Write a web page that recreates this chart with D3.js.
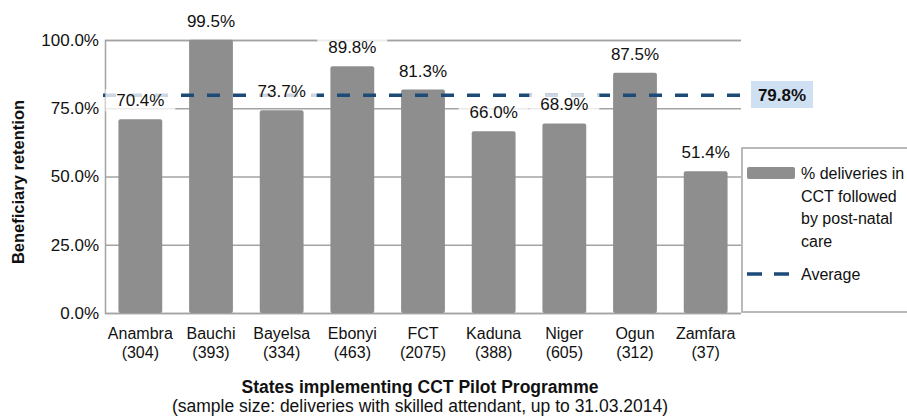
<!DOCTYPE html>
<html>
<head>
<meta charset="utf-8">
<script src="https://cdn.jsdelivr.net/npm/d3@7"></script>
<style>
  body { margin: 0; background: #fff; }
  svg { display: block; font-family: "Liberation Sans", Arial, Helvetica, sans-serif; }
</style>
</head>
<body>
<div id="chart"></div>
<script>
const states = ['Anambra', 'Bauchi', 'Bayelsa', 'Ebonyi', 'FCT', 'Kaduna', 'Niger', 'Ogun', 'Zamfara'];
const sampleSizes = [304, 393, 334, 463, 2075, 388, 605, 312, 37];
const retention = [70.4, 99.5, 73.7, 89.8, 81.3, 66.0, 68.9, 87.5, 51.4];
const average = 79.8;
const yTicks = [0, 25, 50, 75, 100];
const legendLines = ['% deliveries in', 'CCT followed', 'by post-natal', 'care'];

const W = 907, H = 416;
const plot = { left: 105, right: 741, top: 40, bottom: 313 };

const svg = d3.select('#chart').append('svg').attr('width', W).attr('height', H);

const x = d3.scaleBand().domain(states).range([plot.left, plot.right])
  .paddingInner(0.38).paddingOuter(0.19);
const y = d3.scaleLinear().domain([0, 100]).range([plot.bottom, plot.top]);
const barLift = 1.5; // bars sit a touch above the gridline scale in the original

// Grid + y axis
svg.append('g').attr('transform', `translate(${plot.left},0)`)
  .call(d3.axisLeft(y).tickValues(yTicks).tickSize(-(plot.right - plot.left)).tickPadding(6)
    .tickFormat(d => d.toFixed(1) + '%'))
  .call(g => g.select('.domain').attr('stroke', '#a3a3a3').attr('stroke-width', 1.5))
  .call(g => g.selectAll('.tick line').attr('stroke', '#a3a3a3').attr('stroke-width', 1.5))
  .call(g => g.selectAll('.tick text').attr('fill', '#111').attr('font-size', '17px'));

// Bars
svg.append('g').selectAll('rect').data(states).join('rect')
  .attr('x', d => x(d)).attr('width', x.bandwidth())
  .attr('y', (d, i) => y(retention[i]) - barLift).attr('height', (d, i) => y(0) - y(retention[i]) + barLift)
  .attr('rx', 2).attr('fill', '#8e8e8e');

// Average line
svg.append('line')
  .attr('x1', plot.left - 2).attr('x2', plot.right)
  .attr('y1', y(average)).attr('y2', y(average))
  .attr('stroke', '#1d4b78').attr('stroke-width', 3.5).attr('stroke-dasharray', '13,13');

// Value labels with translucent white boxes
const labels = svg.append('g').selectAll('g').data(states).join('g')
  .attr('transform', (d, i) => `translate(${x(d) + x.bandwidth() / 2},${y(retention[i]) - barLift - 13})`);
labels.append('rect')
  .attr('x', -35).attr('y', -17).attr('width', 70).attr('height', 22)
  .attr('fill', '#fff').attr('opacity', 0.78);
labels.append('text').attr('text-anchor', 'middle').attr('font-size', '17px').attr('fill', '#111')
  .text((d, i) => retention[i].toFixed(1) + '%');

// Average label
svg.append('rect').attr('x', 751).attr('y', 81).attr('width', 62).attr('height', 27).attr('fill', '#cfe0f3');
svg.append('text').attr('x', 782).attr('y', y(average) + 6).attr('text-anchor', 'middle')
  .attr('font-size', '17px').attr('font-weight', 'bold').attr('fill', '#111')
  .text(average.toFixed(1) + '%');

// X tick labels
const xl = svg.append('g').selectAll('text').data(states).join('text')
  .attr('text-anchor', 'middle').attr('font-size', '16px').attr('fill', '#111')
  .attr('x', d => x(d) + x.bandwidth() / 2);
xl.append('tspan').attr('x', d => x(d) + x.bandwidth() / 2).attr('y', 339).text(d => d);
xl.append('tspan').attr('x', d => x(d) + x.bandwidth() / 2).attr('y', 358)
  .text((d, i) => `(${sampleSizes[i]})`);

// Axis titles
svg.append('text').attr('transform', 'translate(24,182) rotate(-90)').attr('text-anchor', 'middle')
  .attr('font-size', '16.5px').attr('font-weight', 'bold').attr('fill', '#111')
  .text('Beneficiary retention');
svg.append('text').attr('x', 420).attr('y', 393).attr('text-anchor', 'middle')
  .attr('font-size', '17.5px').attr('font-weight', 'bold').attr('fill', '#111')
  .text('States implementing CCT Pilot Programme');
svg.append('text').attr('x', 420).attr('y', 412).attr('text-anchor', 'middle')
  .attr('font-size', '17.5px').attr('fill', '#111')
  .text('(sample size: deliveries with skilled attendant, up to 31.03.2014)');

// Legend
const lg = svg.append('g');
lg.append('rect').attr('x', 742).attr('y', 148).attr('width', 200).attr('height', 164)
  .attr('fill', '#fff').attr('stroke', '#a3a3a3').attr('stroke-width', 1.5);
lg.append('rect').attr('x', 747).attr('y', 167).attr('width', 48).attr('height', 12)
  .attr('rx', 2).attr('fill', '#8e8e8e');
lg.append('g').selectAll('text').data(legendLines).join('text')
  .attr('x', 801).attr('y', (d, i) => 179 + i * 22.5)
  .attr('font-size', '16px').attr('fill', '#111').text(d => d);
lg.append('line').attr('x1', 747).attr('x2', 789).attr('y1', 274).attr('y2', 274)
  .attr('stroke', '#1d4b78').attr('stroke-width', 3.5).attr('stroke-dasharray', '15,12');
lg.append('text').attr('x', 801).attr('y', 280).attr('font-size', '16px').attr('fill', '#111').text('Average');
</script>
</body>
</html>
